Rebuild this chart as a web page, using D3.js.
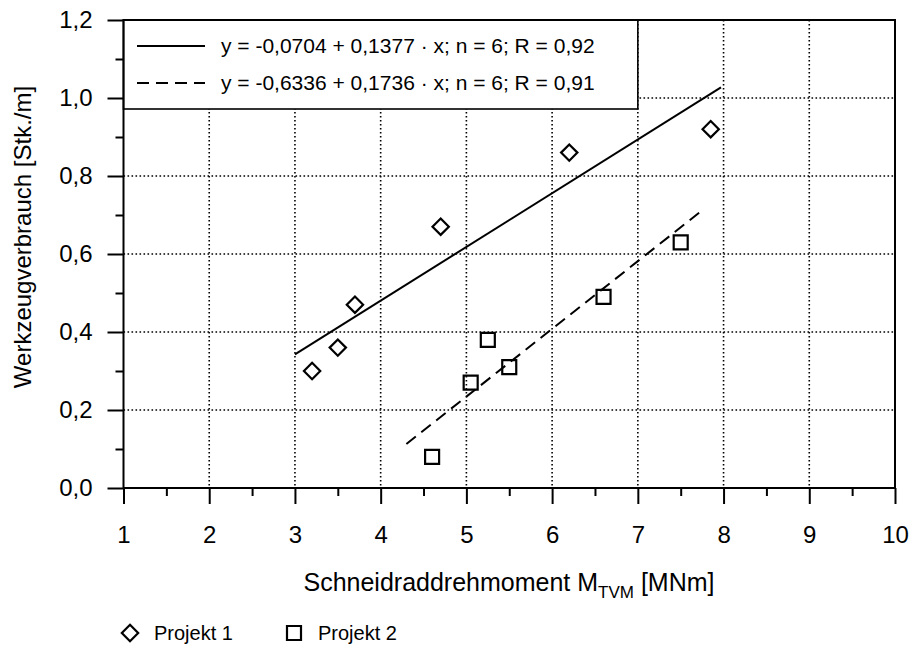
<!DOCTYPE html>
<html>
<head>
<meta charset="utf-8">
<script src="https://cdn.jsdelivr.net/npm/d3@7"></script>
<style>
  html, body { margin: 0; padding: 0; background: #fff; }
  svg { display: block; font-family: "Liberation Sans", Arial, sans-serif; }
</style>
</head>
<body>
<svg id="chart" width="912" height="651"></svg>
<script>
// Projekt 1 (diamonds) and Projekt 2 (squares)
const p1Torque = [3.2, 3.5, 3.7, 4.7, 6.2, 7.85];
const p1Usage  = [0.30, 0.36, 0.47, 0.67, 0.86, 0.92];
const p2Torque = [4.6, 5.05, 5.25, 5.5, 6.6, 7.5];
const p2Usage  = [0.08, 0.27, 0.38, 0.31, 0.49, 0.63];

// Linear fits: y = a + b * x, drawn over the given x span
const fitIntercept = [-0.0704, -0.6336];
const fitSlope     = [0.1377, 0.1736];
const fitFrom      = [3.0, 4.3];
const fitTo        = [7.97, 7.77];
const fitLabels = [
  "y = -0,0704 + 0,1377 · x; n = 6; R = 0,92",
  "y = -0,6336 + 0,1736 · x; n = 6; R = 0,91"
];

const xTicks = [1, 2, 3, 4, 5, 6, 7, 8, 9, 10];
const yTicks = [0, 0.2, 0.4, 0.6, 0.8, 1.0, 1.2];
const seriesNames = ["Projekt 1", "Projekt 2"];

const svg = d3.select("#chart");
const L = 123.5, R = 895, T = 20, B = 488;

const x = d3.scaleLinear().domain([1, 10]).range([L, R]);
const y = d3.scaleLinear().domain([0, 1.2]).range([B, T]);
const fmt = v => d3.format(".1f")(v).replace(".", ",");

// dotted grid
const grid = svg.append("g").attr("stroke", "#000").attr("stroke-width", 1.6)
  .attr("stroke-dasharray", "1.6,2.4");
grid.selectAll("line.gx").data(xTicks.slice(1, -1)).join("line")
  .attr("x1", d => x(d)).attr("x2", d => x(d)).attr("y1", T).attr("y2", B);
grid.selectAll("line.gy").data(yTicks.slice(1, -1)).join("line")
  .attr("y1", d => y(d)).attr("y2", d => y(d)).attr("x1", L).attr("x2", R);

// axes
const xAxis = d3.axisBottom(x).tickValues(xTicks).tickSize(16).tickPadding(22).tickFormat(d3.format("d"));
const xMinor = d3.axisBottom(x).tickValues(d3.range(1.5, 10, 1)).tickSize(8).tickFormat("");
const yAxis = d3.axisLeft(y).tickValues(yTicks).tickSize(16).tickPadding(15).tickFormat(fmt);
const yMinor = d3.axisLeft(y).tickValues(d3.range(0.1, 1.2, 0.2)).tickSize(8).tickFormat("");

function styleAxis(g) {
  g.select(".domain").remove();
  g.selectAll(".tick line").attr("stroke", "#000").attr("stroke-width", 2);
  g.selectAll(".tick text").attr("fill", "#000").attr("font-size", 24)
    .attr("font-family", "'Liberation Sans', Arial, sans-serif");
}
svg.append("g").attr("transform", `translate(0,${B})`).call(xAxis).call(styleAxis);
svg.append("g").attr("transform", `translate(0,${B})`).call(xMinor).call(styleAxis);
svg.append("g").attr("transform", `translate(${L},0)`).call(yAxis).call(styleAxis);
svg.append("g").attr("transform", `translate(${L},0)`).call(yMinor).call(styleAxis);

// legend box with the fit equations
const lg = svg.append("g");
lg.append("rect").attr("x", L).attr("y", T).attr("width", x(7) - L).attr("height", 89)
  .attr("fill", "#fff").attr("stroke", "#000").attr("stroke-width", 1.6);
const dashes = [null, "12,7"];
fitLabels.forEach((t, i) => {
  const yy = 46 + i * 37;
  lg.append("line").attr("x1", 137).attr("x2", 205).attr("y1", yy).attr("y2", yy)
    .attr("stroke", "#000").attr("stroke-width", 2).attr("stroke-dasharray", dashes[i]);
  lg.append("text").attr("x", 221).attr("y", yy).attr("dy", "0.35em")
    .attr("font-size", 21).attr("fill", "#000").text(t);
});

// frame
svg.append("rect").attr("x", L).attr("y", T).attr("width", R - L).attr("height", B - T)
  .attr("fill", "none").attr("stroke", "#000").attr("stroke-width", 2);

// regression lines
fitIntercept.forEach((a, i) => {
  const b = fitSlope[i];
  svg.append("line")
    .attr("x1", x(fitFrom[i])).attr("y1", y(a + b * fitFrom[i]))
    .attr("x2", x(fitTo[i])).attr("y2", y(a + b * fitTo[i]))
    .attr("stroke", "#000").attr("stroke-width", 2)
    .attr("stroke-dasharray", dashes[i]);
});

// markers
const diamond = d3.symbol().type(d3.symbolDiamond2).size(170);
const square = d3.symbol().type(d3.symbolSquare).size(196);
svg.append("g").selectAll("path").data(d3.zip(p1Torque, p1Usage)).join("path")
  .attr("d", diamond).attr("transform", d => `translate(${x(d[0])},${y(d[1])})`)
  .attr("fill", "none").attr("stroke", "#000").attr("stroke-width", 2.2);
svg.append("g").selectAll("path").data(d3.zip(p2Torque, p2Usage)).join("path")
  .attr("d", square).attr("transform", d => `translate(${x(d[0])},${y(d[1])})`)
  .attr("fill", "none").attr("stroke", "#000").attr("stroke-width", 2.2);

// axis titles
svg.append("text").attr("transform", "translate(31,237) rotate(-90)")
  .attr("text-anchor", "middle").attr("font-size", 24).attr("fill", "#000")
  .text("Werkzeugverbrauch [Stk./m]");
const xt = svg.append("text").attr("x", 509).attr("y", 591)
  .attr("text-anchor", "middle").attr("font-size", 25).attr("fill", "#000");
xt.append("tspan").text("Schneidraddrehmoment M");
xt.append("tspan").attr("font-size", 17).attr("dy", 7).text("TVM");
xt.append("tspan").attr("dy", -7).text(" [MNm]");

// series legend below the chart
const bl = svg.append("g");
const symbols = [diamond, square];
[130, 294].forEach((cx, i) => {
  bl.append("path").attr("d", symbols[i]).attr("transform", `translate(${cx},633)`)
    .attr("fill", "none").attr("stroke", "#000").attr("stroke-width", 2.2);
  bl.append("text").attr("x", cx + 24).attr("y", 633).attr("dy", "0.35em")
    .attr("font-size", 20).attr("fill", "#000").text(seriesNames[i]);
});
</script>
</body>
</html>
